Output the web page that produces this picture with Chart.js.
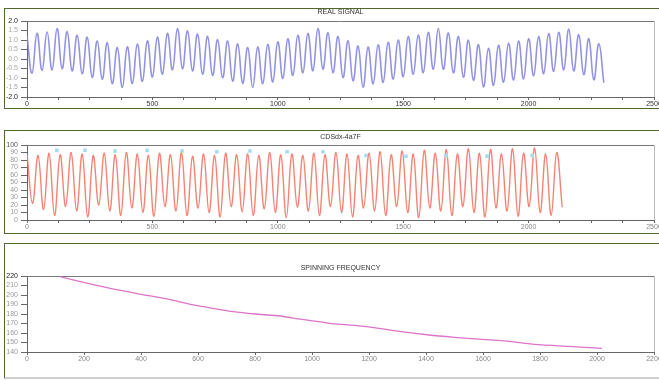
<!DOCTYPE html>
<html><head><meta charset="utf-8">
<script src="https://cdn.jsdelivr.net/npm/chart.js@4.4.1/dist/chart.umd.min.js"></script>
<style>
html,body{margin:0;padding:0;background:#fff;overflow:hidden;width:659px;height:380px;position:relative;}
.panel{position:absolute;box-sizing:border-box;border:1.5px solid #4e6a2e;}
canvas{position:absolute;left:0;}
</style></head><body>
<div class="panel" style="left:4px;top:8px;width:700px;height:101px"></div>
<div class="panel" style="left:4px;top:130px;width:700px;height:104px"></div>
<div class="panel" style="left:4px;top:243px;width:700px;height:136px;border-bottom:2px solid #cfcfcf"></div>
<canvas id="c1" width="669" height="110" style="top:0;width:669px;height:110px"></canvas>
<canvas id="c2" width="669" height="108" style="top:125px;width:669px;height:108px"></canvas>
<canvas id="c3" width="669" height="130" style="top:240px;width:669px;height:130px"></canvas>
<script>
// ---------- data ----------
const realTitle = "REAL SIGNAL";
const realStep = 20;            // sample spacing of the listed extremes
const realSignal = [1.20,-0.75,1.35,-0.60,1.42,-0.58,1.60,-0.51,1.44,-0.63,
 1.25,-0.78,1.15,-0.97,0.95,-1.07,0.85,-1.30,0.60,-1.50,
 0.64,-1.29,0.79,-1.18,0.95,-0.95,1.15,-0.80,1.35,-0.57,
 1.60,-0.52,1.48,-0.63,1.31,-0.80,1.19,-0.87,1.02,-0.99,
 0.95,-1.17,0.80,-1.28,0.60,-1.50,0.63,-1.30,0.77,-1.21,
 0.91,-1.02,1.06,-0.87,1.25,-0.73,1.35,-0.62,1.60,-0.53,
 1.38,-0.72,1.18,-0.98,0.96,-1.15,0.68,-1.50,0.63,-1.31,
 0.75,-1.23,0.88,-1.06,1.00,-0.93,1.18,-0.80,1.26,-0.72,
 1.40,-0.54,1.60,-0.54,1.37,-0.73,1.18,-0.96,0.99,-1.12,
 0.75,-1.47,0.56,-1.39,0.72,-1.22,0.83,-1.11,0.94,-1.05,
 1.06,-0.88,1.18,-0.77,1.34,-0.65,1.41,-0.57,1.58,-0.62,
 1.28,-0.83,1.07,-1.10,0.80,-1.25];
const realXLabels = [0,500,1000,1500,2000,2500];
const realYLabels = [-2,-1.5,-1,-0.5,0,0.5,1,1.5,2];

const envTitle = "CDSdx-4a7F";
const envStep = 22;
const envSignal = [88,22,86,14,89,6,87,18,90,12,
 88,4,86,20,89,12,87,6,90,16,
 88,10,86,5,89,18,87,12,90,6,
 85,16,88,10,86,4,89,18,87,11,
 88,6,86,15,90,10,87,3,88,17,
 86,12,89,6,87,18,90,10,88,4,
 86,16,89,12,91,6,87,18,92,10,
 88,3,93,16,89,12,94,6,88,18,
 95,10,89,4,94,16,88,12,95,5,
 89,18,96,10,88,6,90,17];
const markerSamples = [119,231,351,479,618,757,889,1037,1180,1352,1511,1671,1834,2014];
const markerValues  = [93,93,92,93,92,91,92,91,91,86,85,86,85,86];
const envXLabels = [0,500,1000,1500,2000,2500];
const envYLabels = [0,10,20,30,40,50,60,70,80,90,100];

const freqTitle = "SPINNING FREQUENCY";
const freqSamples = [116,221,300,396,500,584,650,724,800,888,960,1063,1130,1211,1300,1411,1500,1597,1700,1750,1807,1900,2017];
const freqValues  = [219.3,211.6,206.5,201,195.5,189.5,186,182.4,180,177.9,174.5,170.2,168.5,166,162,157.9,155.5,153.3,151,149,147.4,146,143.9];
const freqXLabels = [0,200,400,600,800,1000,1200,1400,1600,1800,2000,2200];
const freqYLabels = [140,150,160,170,180,190,200,210,220];

// ---------- helpers ----------
const FONT = "'Liberation Sans', Arial, sans-serif";
Chart.defaults.font.family = FONT;
Chart.defaults.animation = false;

const framePlugin = {
  id: 'frame',
  beforeDatasetsDraw(chart, args, opts) {
    const {ctx, chartArea: {left, right, top, bottom}} = chart;
    ctx.save();
    ctx.lineWidth = 1;
    ctx.strokeStyle = opts.topColor || '#777';
    ctx.beginPath(); ctx.moveTo(left, top + 0.5); ctx.lineTo(right, top + 0.5); ctx.stroke();
    ctx.strokeStyle = opts.rightColor || '#bbb';
    ctx.beginPath(); ctx.moveTo(right + 0.5, top); ctx.lineTo(right + 0.5, bottom); ctx.stroke();
    ctx.restore();
  }
};

function setTicks(values) {
  return function (scale) { scale.ticks = values.map(v => ({value: v})); };
}

function makeChart(id, o) {
  return new Chart(document.getElementById(id), {
    type: 'line',
    data: {datasets: o.datasets},
    options: {
      responsive: false,
      animation: false,
      layout: {padding: {left: 0, right: 15, top: 0, bottom: 0}},
      plugins: {
        legend: {display: false},
        tooltip: {enabled: false},
        title: {display: true, text: o.title, fullSize: false, color: '#333',
          font: {size: 7, family: FONT, weight: 'normal'}, padding: {top: o.titleTop, bottom: o.titleBottom}},
        frame: {}
      },
      scales: {
        x: {
          type: 'linear', min: o.xMin, max: o.xMax,
          afterBuildTicks: setTicks(o.xTicks),
          afterFit: s => { s.height = o.xHeight; },
          grid: {display: true, drawOnChartArea: false, drawTicks: true, tickLength: 3, color: '#666'},
          border: {display: true, color: '#666', width: 1},
          ticks: {autoSkip: false, maxRotation: 0, padding: 0, font: {size: 7},
            color: o.xLabelColor,
            callback: v => o.xLabels.includes(v) ? String(v) : ''}
        },
        y: {
          type: 'linear', min: o.yMin, max: o.yMax,
          afterBuildTicks: setTicks(o.yTicks),
          afterFit: s => { s.width = 27; },
          grid: {display: true, drawOnChartArea: false, drawTicks: true, tickLength: 6, color: '#666'},
          border: {display: true, color: '#666', width: 1},
          ticks: {autoSkip: false, padding: 3, font: {size: 7},
            color: o.yLabelColor,
            callback: o.yFormat}
        }
      }
    },
    plugins: [framePlugin]
  });
}

// ---------- chart 1: real signal ----------
makeChart('c1', {
  title: realTitle, titleTop: 8, titleBottom: 4.6, xHeight: 13,
  xMin: 0, xMax: 2500, xTicks: Array.from({length: 21}, (_, i) => i * 125), xLabels: realXLabels,
  yMin: -2, yMax: 2, yTicks: realYLabels,
  xLabelColor: '#333',
  yLabelColor: c => (c.tick && Math.abs(c.tick.value) === 2) ? '#222' : '#a8a8a8',
  yFormat: v => v.toFixed(1),
  datasets: [{
    data: realSignal.map((v, i) => ({x: i * realStep, y: v})),
    borderColor: 'rgba(128,128,222,0.85)', borderWidth: 1.6, pointRadius: 0,
    tension: 0.45, fill: false
  }]
});

// ---------- chart 2: envelope ----------
makeChart('c2', {
  title: envTitle, titleTop: 8, titleBottom: 3.6, xHeight: 13,
  xMin: 0, xMax: 2500, xTicks: Array.from({length: 21}, (_, i) => i * 125), xLabels: envXLabels,
  yMin: 0, yMax: 100, yTicks: envYLabels,
  xLabelColor: '#888',
  yLabelColor: c => (c.tick && c.tick.value === 100) ? '#555' : '#999',
  yFormat: v => String(v),
  datasets: [
    {
      data: markerSamples.map((s, i) => ({x: s, y: markerValues[i]})),
      showLine: false, pointStyle: 'rect', pointRadius: 2.5,
      pointBackgroundColor: '#a6dcef', pointBorderColor: '#a6dcef', borderWidth: 0
    },
    {
      data: envSignal.map((v, i) => ({x: i * envStep, y: v})),
      borderColor: 'rgba(244,118,100,0.9)', borderWidth: 1.4, pointRadius: 0,
      tension: 0.4, fill: false
    }
  ]
});

// ---------- chart 3: spinning frequency ----------
makeChart('c3', {
  title: freqTitle, titleTop: 24, titleBottom: 3.6, xHeight: 18,
  xMin: 0, xMax: 2200, xTicks: freqXLabels, xLabels: freqXLabels,
  yMin: 140, yMax: 220, yTicks: freqYLabels,
  xLabelColor: '#888',
  yLabelColor: c => (c.tick && c.tick.value === 220) ? '#222' : '#999',
  yFormat: v => String(v),
  datasets: [{
    data: freqSamples.map((s, i) => ({x: s, y: freqValues[i]})),
    borderColor: '#dc74c8', borderWidth: 1.3, pointRadius: 0,
    tension: 0.2, fill: false
  }]
});
</script>
</body></html>
